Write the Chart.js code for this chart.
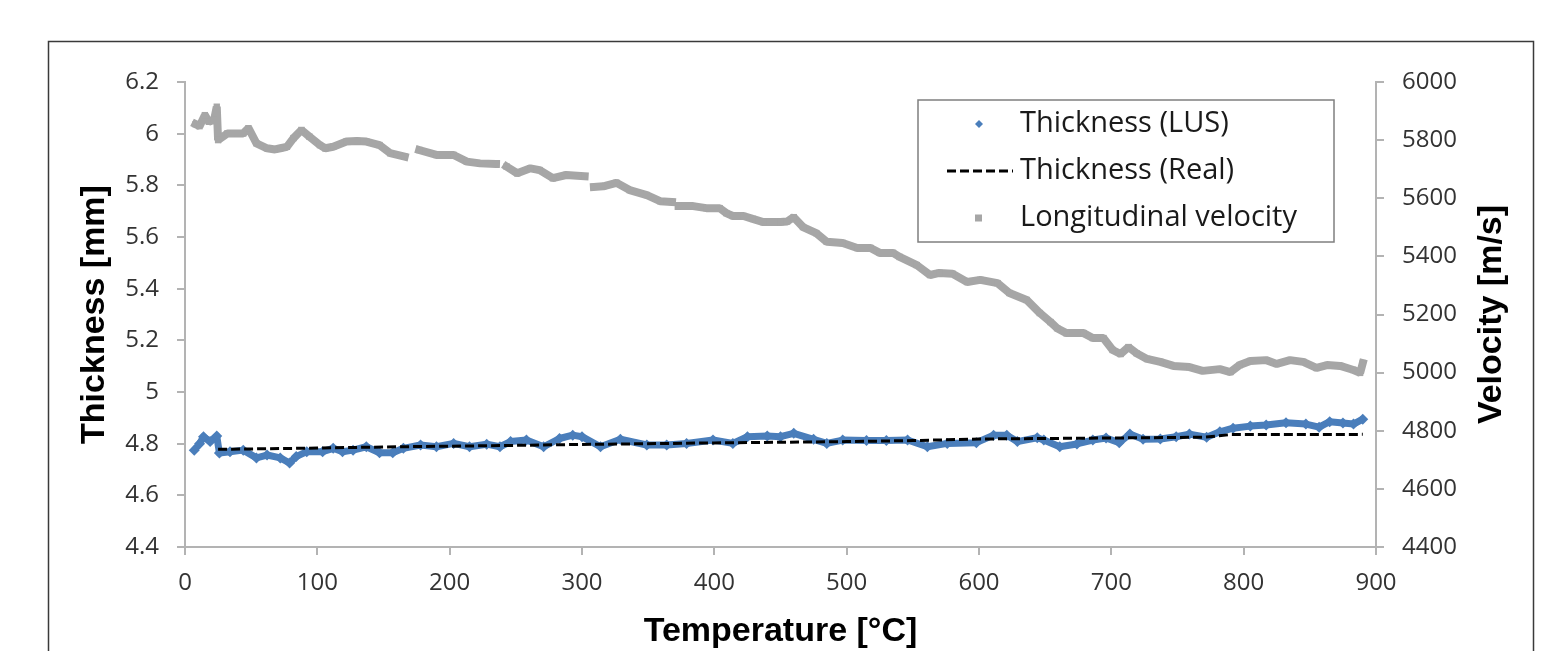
<!DOCTYPE html>
<html>
<head>
<meta charset="utf-8">
<script src="https://cdn.jsdelivr.net/npm/chart.js@4"></script>
<style>
  html, body { margin: 0; padding: 0; background: #fff; }
  #wrap { position: relative; width: 1566px; height: 651px; overflow: hidden; }
  canvas { position: absolute; left: 0; top: 0; }
</style>
</head>
<body>
<div id="wrap"><canvas id="chart" width="1566" height="651"></canvas></div>
<script>
// Longitudinal velocity (right axis, m/s) — null marks gaps in the record
const velocityTemp = [
  8, 11, 15, 18, 22, 24, 25, 32, 40, 44,
  48, 54, 62, 68, 72, 77, 82, 88, 94, 102,
  106, 112, 122, 130, 137, 147, 155, 166, 171, 177,
  190, 203, 213, 223, 235, 239, 243, 251, 261, 268,
  278, 288, 302, 305, 309, 316, 326, 336, 349, 359,
  368, 371, 373, 384, 394, 404, 409, 414, 422, 429,
  437, 444, 450, 455, 460, 467, 477, 485, 497, 508,
  518, 525, 535, 540, 553, 563, 570, 580, 591, 601,
  614, 623, 636, 646, 654, 659, 666, 679, 686, 694,
  701, 707, 713, 719, 727, 737, 747, 759, 769, 782,
  790, 797, 805, 817, 825, 835, 845, 855, 863, 873,
  883, 888, 890
]
const velocityValue = [
  5855, 5848, 5886, 5863, 5870, 5915, 5800, 5823, 5823, 5823,
  5841, 5789, 5772, 5768, 5772, 5777, 5807, 5835, 5812, 5783,
  5772, 5777, 5795, 5797, 5795, 5783, 5755, 5743, null, 5766,
  5749, 5749, 5726, 5720, 5718, null, 5709, 5686, 5703, 5697,
  5669, 5680, 5676, null, 5639, 5641, 5653, 5628, 5611, 5590,
  5587, null, 5573, 5573, 5566, 5566, 5549, 5539, 5539, 5529,
  5518, 5518, 5518, 5520, 5535, 5501, 5480, 5450, 5446, 5429,
  5429, 5412, 5412, 5398, 5370, 5336, 5343, 5340, 5312, 5319,
  5308, 5274, 5250, 5205, 5174, 5153, 5136, 5136, 5119, 5119,
  5078, 5064, 5088, 5067, 5047, 5037, 5023, 5019, 5006, 5012,
  5002, 5026, 5040, 5043, 5030, 5043, 5037, 5016, 5026, 5023,
  5009, 4999, 5033
]

// Thickness measured by LUS (left axis, mm)
const lusTemp = [
  7, 11, 14, 19, 24, 26, 34, 44, 54, 62,
  72, 79, 84, 92, 104, 112, 119, 127, 137, 147,
  157, 165, 178, 190, 203, 215, 228, 238, 246, 258,
  271, 283, 293, 300, 314, 329, 349, 364, 379, 399,
  414, 425, 440, 450, 460, 475, 485, 497, 515, 530,
  546, 561, 576, 598, 611, 621, 629, 644, 649, 661,
  674, 686, 696, 706, 714, 724, 737, 749, 759, 772,
  782, 792, 805, 817, 832, 847, 857, 865, 875, 883,
  890
]
const lusValue = [
  4.775, 4.80, 4.827, 4.808, 4.83, 4.764, 4.769, 4.775, 4.745, 4.756,
  4.745, 4.725, 4.75, 4.769, 4.769, 4.782, 4.769, 4.775, 4.788, 4.765,
  4.765, 4.782, 4.795, 4.788, 4.801, 4.788, 4.798, 4.788, 4.808, 4.814,
  4.788, 4.82, 4.833, 4.827, 4.788, 4.817, 4.795, 4.795, 4.801, 4.814,
  4.801, 4.827, 4.83, 4.827, 4.84, 4.817, 4.801, 4.814, 4.812, 4.812,
  4.814, 4.788, 4.801, 4.804, 4.833, 4.833, 4.808, 4.823, 4.814, 4.788,
  4.799, 4.814, 4.822, 4.804, 4.837, 4.817, 4.818, 4.827, 4.837, 4.825,
  4.846, 4.86, 4.868, 4.872, 4.881, 4.876, 4.864, 4.885, 4.88, 4.876,
  4.895
]

// Real thickness (left axis, mm)
const realTemp = [25, 100, 160, 230, 300, 400, 500, 550, 600, 700, 770, 790, 890]
const realValue = [4.778, 4.783, 4.788, 4.792, 4.797, 4.803, 4.808, 4.812, 4.818, 4.822, 4.825, 4.835, 4.836]

const seriesLabels = ['Thickness (LUS)', 'Thickness (Real)', 'Longitudinal velocity']
const axisTitles = { x: 'Temperature [°C]', left: 'Thickness [mm]', right: 'Velocity [m/s]' }

const toPoints = (xs, ys) => xs.map((x, i) => ({ x, y: ys[i] }))

const BLUE = '#4a7ebb'
const GREY = '#a6a6a6'
const AXIS = '#b3b3b3'
const TICK_TEXT = '#333333'

const frameAndLegend = {
  id: 'frameAndLegend',
  beforeDraw(chart) {
    const ctx = chart.ctx
    ctx.save()
    ctx.fillStyle = '#fff'
    ctx.fillRect(0, 0, chart.width, chart.height)
    ctx.strokeStyle = '#3a3a3a'
    ctx.lineWidth = 1.5
    ctx.strokeRect(48.5, 41.5, 1485, 700)
    ctx.restore()
  },
  afterDraw(chart) {
    const ctx = chart.ctx
    ctx.save()
    // right axis title, reads bottom-to-top
    const area = chart.chartArea
    ctx.translate(1492, (area.top + area.bottom) / 2)
    ctx.rotate(-Math.PI / 2)
    ctx.font = 'bold 34px "Liberation Sans", Arial, sans-serif'
    ctx.fillStyle = '#000'
    ctx.textAlign = 'center'
    ctx.textBaseline = 'middle'
    ctx.fillText(axisTitles.right, 0, 0)
    ctx.restore()

    // legend box
    ctx.save()
    ctx.fillStyle = '#fff'
    ctx.fillRect(918, 100, 416, 142)
    ctx.strokeStyle = '#7f7f7f'
    ctx.lineWidth = 1.5
    ctx.strokeRect(918, 100, 416, 142)
    ctx.font = '29px "Open Sans", sans-serif'
    ctx.fillStyle = '#1a1a1a'
    ctx.textAlign = 'left'
    ctx.textBaseline = 'middle'
    const rows = [124, 171, 218]
    seriesLabels.forEach((label, i) => {
      ctx.fillText(label, 1020, rows[i])
    })
    // diamond
    ctx.fillStyle = BLUE
    ctx.beginPath()
    ctx.moveTo(979, rows[0] - 4)
    ctx.lineTo(983, rows[0])
    ctx.lineTo(979, rows[0] + 4)
    ctx.lineTo(975, rows[0])
    ctx.closePath()
    ctx.fill()
    // dashed line
    ctx.strokeStyle = '#000'
    ctx.lineWidth = 3
    ctx.setLineDash([9, 4])
    ctx.beginPath()
    ctx.moveTo(947, rows[1])
    ctx.lineTo(1013, rows[1])
    ctx.stroke()
    ctx.setLineDash([])
    // square
    ctx.fillStyle = GREY
    ctx.fillRect(975, rows[2] - 3.5, 7, 7)
    ctx.restore()
  }
}

const tickFont = { family: '"Open Sans", sans-serif', size: 24 }
const titleFont = { family: '"Liberation Sans", Arial, sans-serif', size: 34, weight: 'bold', lineHeight: 1 }

new Chart(document.getElementById('chart').getContext('2d'), {
  type: 'scatter',
  data: {
    datasets: [
      {
        label: seriesLabels[1],
        data: toPoints(realTemp, realValue),
        yAxisID: 'y',
        showLine: true,
        borderColor: '#000',
        borderWidth: 3,
        borderDash: [9, 4],
        pointRadius: 0,
        order: 0
      },
      {
        label: seriesLabels[0],
        data: toPoints(lusTemp, lusValue),
        yAxisID: 'y',
        showLine: true,
        borderColor: BLUE,
        backgroundColor: BLUE,
        borderWidth: 7,
        borderJoinStyle: 'round',
        pointStyle: 'rectRot',
        pointRadius: 5.5,
        pointBorderWidth: 0,
        order: 1
      },
      {
        label: seriesLabels[2],
        data: toPoints(velocityTemp, velocityValue),
        yAxisID: 'y1',
        showLine: true,
        spanGaps: false,
        borderColor: GREY,
        backgroundColor: GREY,
        borderWidth: 8,
        borderJoinStyle: 'bevel',
        borderCapStyle: 'square',
        pointStyle: 'rect',
        pointRadius: 4.5,
        pointBorderWidth: 0,
        order: 2
      }
    ]
  },
  options: {
    responsive: false,
    animation: false,
    layout: { padding: { top: 82, left: 0, right: 0, bottom: 0 } },
    plugins: {
      legend: { display: false },
      tooltip: { enabled: false }
    },
    scales: {
      x: {
        type: 'linear',
        min: 0,
        max: 900,
        afterFit: (s) => { s.height = 104 },
        ticks: { stepSize: 100, color: TICK_TEXT, font: tickFont, padding: 14, maxRotation: 0 },
        grid: { drawOnChartArea: false, color: AXIS, tickLength: 8, lineWidth: 2 },
        border: { color: AXIS, width: 2 },
        title: { display: true, text: axisTitles.x, color: '#000', font: titleFont, padding: { top: 0, bottom: 2 } }
      },
      y: {
        type: 'linear',
        position: 'left',
        min: 4.4,
        max: 6.2,
        afterFit: (s) => { s.width = 185 },
        ticks: {
          stepSize: 0.2,
          color: TICK_TEXT,
          font: tickFont,
          padding: 18,
          callback: (v) => String(Number(v.toFixed(1)))
        },
        grid: { drawOnChartArea: false, color: AXIS, tickLength: 8, lineWidth: 2 },
        border: { color: AXIS, width: 2 },
        title: { display: true, text: axisTitles.left, color: '#000', font: titleFont, padding: { top: 78, bottom: 0 } }
      },
      y1: {
        type: 'linear',
        position: 'right',
        min: 4400,
        max: 6000,
        afterFit: (s) => { s.width = 190 },
        ticks: {
          stepSize: 200,
          color: TICK_TEXT,
          font: tickFont,
          padding: 18,
          callback: (v) => String(v)
        },
        grid: { drawOnChartArea: false, color: AXIS, tickLength: 8, lineWidth: 2 },
        border: { color: AXIS, width: 2 },
        title: { display: false }
      }
    }
  },
  plugins: [frameAndLegend]
})
</script>
</body>
</html>
